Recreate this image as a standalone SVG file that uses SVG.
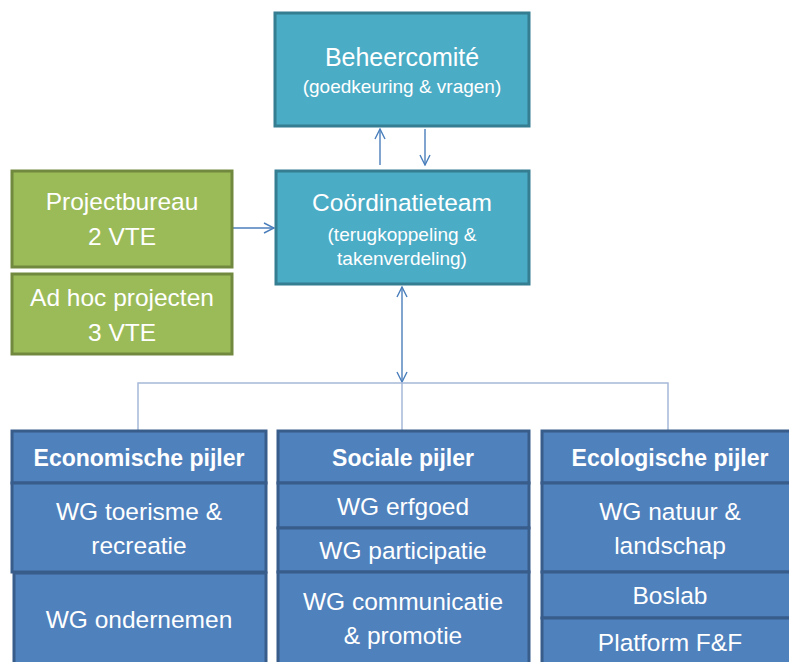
<svg xmlns="http://www.w3.org/2000/svg" width="789" height="662" viewBox="0 0 789 662">
<defs>
<marker id="arr" viewBox="0 0 12 12" refX="11" refY="6" markerWidth="12" markerHeight="12" markerUnits="userSpaceOnUse" orient="auto-start-reverse">
<path d="M1,1 L11,6 L1,11" fill="none" stroke="#4a7ebb" stroke-width="1.4"/>
</marker>
</defs>
<style>
text{font-family:"Liberation Sans",Arial,sans-serif;fill:#ffffff;text-anchor:middle}
.teal{fill:#4bacc6;stroke:#357d91;stroke-width:3}
.green{fill:#9bbb59;stroke:#71893f;stroke-width:3}
.blue{fill:#4f81bd;stroke:#385d8a;stroke-width:3}
.big{font-size:24.5px}
.sub{font-size:19px}
.hdr{font-size:23px;font-weight:bold}
.arrow{stroke:#4a7ebb;stroke-width:1.4;fill:none}
.tree{stroke:#a5b8d8;stroke-width:1.5;fill:none}
</style>
<g id="connectors">
<line class="arrow" x1="380" y1="165" x2="380" y2="129" marker-end="url(#arr)"/>
<line class="arrow" x1="425" y1="129" x2="425" y2="165" marker-end="url(#arr)"/>
<line class="arrow" x1="233" y1="228" x2="274" y2="228" marker-end="url(#arr)"/>
<line class="arrow" x1="402" y1="287" x2="402" y2="382" marker-start="url(#arr)" marker-end="url(#arr)"/>
<path class="tree" d="M138,430 V383 H668 V430 M402,383 V430"/>
</g>
<g id="beheercomite">
<rect class="teal" x="275" y="13" width="254" height="113"/>
<text class="big" x="402" y="66" style="font-size:25px">Beheercomité</text>
<text class="sub" x="402" y="93">(goedkeuring &amp; vragen)</text>
</g>
<g id="coordinatieteam">
<rect class="teal" x="276" y="171" width="253" height="113"/>
<text class="big" x="402" y="211">Coördinatieteam</text>
<text class="sub" x="402" y="241">(terugkoppeling &amp;</text>
<text class="sub" x="402" y="265">takenverdeling)</text>
</g>
<g id="projectbureau">
<rect class="green" x="12" y="171" width="220" height="96"/>
<text class="big" x="122" y="210">Projectbureau</text>
<text class="big" x="122" y="245">2 VTE</text>
</g>
<g id="adhoc">
<rect class="green" x="12" y="274" width="220" height="80"/>
<text class="big" x="122" y="306">Ad hoc projecten</text>
<text class="big" x="122" y="341">3 VTE</text>
</g>
<g id="economisch">
<rect class="blue" x="12" y="431" width="254" height="52"/>
<text class="hdr" x="139" y="466">Economische pijler</text>
<rect class="blue" x="12" y="483" width="254" height="89"/>
<text class="big" x="139" y="520">WG toerisme &amp;</text>
<text class="big" x="139" y="554">recreatie</text>
<rect class="blue" x="14" y="573" width="252" height="100"/>
<text class="big" x="139" y="628">WG ondernemen</text>
</g>
<g id="sociaal">
<rect class="blue" x="278" y="431" width="251" height="52"/>
<text class="hdr" x="403" y="466">Sociale pijler</text>
<rect class="blue" x="278" y="483" width="251" height="45"/>
<text class="big" x="403" y="515">WG erfgoed</text>
<rect class="blue" x="278" y="528" width="251" height="44"/>
<text class="big" x="403" y="559">WG participatie</text>
<rect class="blue" x="278" y="572" width="251" height="100"/>
<text class="big" x="403" y="610">WG communicatie</text>
<text class="big" x="403" y="644">&amp; promotie</text>
</g>
<g id="ecologisch">
<rect class="blue" x="542" y="431" width="260" height="52"/>
<text class="hdr" x="670" y="466">Ecologische pijler</text>
<rect class="blue" x="542" y="483" width="260" height="89"/>
<text class="big" x="670" y="520">WG natuur &amp;</text>
<text class="big" x="670" y="554">landschap</text>
<rect class="blue" x="542" y="572" width="260" height="46"/>
<text class="big" x="670" y="604">Boslab</text>
<rect class="blue" x="542" y="618" width="260" height="60"/>
<text class="big" x="670" y="651">Platform F&amp;F</text>
</g>
</svg>
